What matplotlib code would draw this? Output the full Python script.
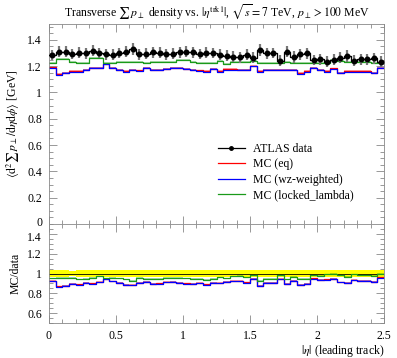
import numpy as np
import matplotlib
matplotlib.use("Agg")
import matplotlib.pyplot as plt
import matplotlib.transforms as mtransforms
from matplotlib.ticker import MultipleLocator

plt.rcParams['font.family'] = ['Liberation Serif', 'DejaVu Serif']
plt.rcParams['mathtext.fontset'] = 'stix'
plt.rcParams['font.size'] = 8.5

# 50 bins in |eta| from 0 to 2.5
edges = np.linspace(0, 2.5, 51)

data = [1.285, 1.310, 1.310, 1.293, 1.303, 1.298, 1.318, 1.298, 1.290, 1.285,
        1.298, 1.310, 1.328, 1.290, 1.295, 1.305, 1.303, 1.290, 1.293, 1.305,
        1.310, 1.305, 1.293, 1.303, 1.298, 1.285, 1.280, 1.272, 1.267, 1.285,
        1.264, 1.323, 1.298, 1.298, 1.242, 1.310, 1.267, 1.290, 1.298, 1.247,
        1.252, 1.234, 1.247, 1.264, 1.277, 1.242, 1.252, 1.252, 1.260, 1.234]
data_err = [0.040, 0.042, 0.040, 0.038, 0.040, 0.042, 0.045, 0.040, 0.040, 0.042,
            0.040, 0.042, 0.045, 0.040, 0.040, 0.042, 0.040, 0.040, 0.042, 0.040,
            0.042, 0.040, 0.040, 0.042, 0.040, 0.042, 0.040, 0.042, 0.040, 0.042,
            0.040, 0.045, 0.042, 0.040, 0.042, 0.042, 0.045, 0.040, 0.042, 0.040,
            0.042, 0.040, 0.042, 0.040, 0.042, 0.040, 0.042, 0.040, 0.042, 0.040]

mc_eq = [1.190, 1.140, 1.150, 1.160, 1.160, 1.172, 1.185, 1.185, 1.215, 1.185,
         1.172, 1.160, 1.172, 1.167, 1.185, 1.172, 1.172, 1.178, 1.185, 1.185,
         1.178, 1.172, 1.167, 1.160, 1.178, 1.160, 1.175, 1.175, 1.170, 1.170,
         1.200, 1.160, 1.172, 1.172, 1.172, 1.172, 1.172, 1.145, 1.160, 1.185,
         1.172, 1.160, 1.182, 1.150, 1.160, 1.160, 1.160, 1.160, 1.150, 1.185]
mc_wz = [1.184, 1.133, 1.145, 1.158, 1.158, 1.171, 1.184, 1.184, 1.217, 1.184,
         1.171, 1.158, 1.171, 1.165, 1.184, 1.171, 1.171, 1.176, 1.184, 1.184,
         1.176, 1.171, 1.165, 1.158, 1.176, 1.158, 1.171, 1.171, 1.168, 1.168,
         1.197, 1.158, 1.171, 1.171, 1.168, 1.171, 1.171, 1.140, 1.158, 1.184,
         1.171, 1.158, 1.176, 1.150, 1.158, 1.158, 1.158, 1.158, 1.150, 1.184]
mc_locked = [1.222, 1.252, 1.252, 1.234, 1.227, 1.227, 1.260, 1.260, 1.227, 1.227,
             1.234, 1.234, 1.234, 1.234, 1.227, 1.234, 1.234, 1.234, 1.234, 1.247,
             1.247, 1.234, 1.227, 1.222, 1.227, 1.237, 1.217, 1.234, 1.234, 1.234,
             1.240, 1.227, 1.227, 1.227, 1.227, 1.234, 1.222, 1.222, 1.227, 1.227,
             1.222, 1.222, 1.247, 1.240, 1.230, 1.230, 1.234, 1.234, 1.227, 1.227]

labels = ['ATLAS data', 'MC (eq)', 'MC (wz-weighted)', 'MC (locked_lambda)']
colors = ['black', 'red', 'blue', '#1a9a1a']

data = np.array(data)
data_err = np.array(data_err)
centers = 0.5 * (edges[:-1] + edges[1:])

fig = plt.figure(figsize=(3.97, 3.58), dpi=100)
ax = fig.add_axes([49/397, 1 - 224/358, 335/397, 200/358])
rax = fig.add_axes([49/397, 1 - 323/358, 335/397, 99/358])


def step(a, vals, **kw):
    v = np.append(vals, vals[-1])
    return a.step(edges, v, where='post', **kw)


def band(a, vals, err, color):
    lo = np.append(vals - err, vals[-1] - err)
    hi = np.append(vals + err, vals[-1] + err)
    a.fill_between(edges, lo, hi, step='post', color=color, alpha=0.35, lw=0)


# main panel
for vals, c, lab in zip([mc_eq, mc_wz, mc_locked], colors[1:], labels[1:]):
    vals = np.array(vals)
    band(ax, vals, 0.007, c)
    step(ax, vals, color=c, lw=0.9, label=lab)

ax.errorbar(centers, data, yerr=data_err, fmt='none', ecolor='#777777', elinewidth=1.6, zorder=3)
step(ax, data, color='black', lw=0.9, zorder=4)
ax.plot(centers, data, 'o', color='black', ms=3.3, zorder=5)
ax.plot([], [], '-o', color='black', ms=2.5, lw=0.9, label=labels[0])

h, l = ax.get_legend_handles_labels()
order = [3, 0, 1, 2]
ax.legend([h[i] for i in order], [l[i] for i in order], frameon=False,
          loc='upper left', bbox_to_anchor=(0.49, 0.43), handlelength=2.3,
          handletextpad=0.7, labelspacing=0.3, fontsize=8.5, borderaxespad=0)

ax.set_xlim(0, 2.5)
ax.set_ylim(0, 1.52)
ax.set_yticks(np.arange(0, 1.41, 0.2))
ax.set_yticklabels(['0', '0.2', '0.4', '0.6', '0.8', '1', '1.2', '1.4'])
ax.tick_params(labelbottom=False)
ax.set_ylabel(r'$\langle\mathrm{d}^2\sum\, p_\perp/\mathrm{d}\eta\mathrm{d}\phi\rangle$ [GeV]')
ax.set_title(r'Transverse $\sum\, p_\perp$ density vs. $|\eta^{\mathrm{trk1}}|$, $\sqrt{s}=7$ TeV, $p_\perp > 100$ MeV',
             fontsize=8.5, pad=6)

# ratio panel
rerr = data_err / data
lo = np.append(1 - rerr, 1 - rerr[-1])
hi = np.append(1 + rerr, 1 + rerr[-1])
rax.fill_between(edges, lo, hi, step='post', color='yellow', lw=0)
rax.axhline(1, color='black', lw=0.6)
for vals, c in zip([mc_eq, mc_wz, mc_locked], colors[1:]):
    r = np.array(vals) / data
    band(rax, r, 0.007, c)
    step(rax, r, color=c, lw=0.9)

rax.set_xlim(0, 2.5)
rax.set_ylim(0.5, 1.5)
rax.set_yticks([0.6, 0.8, 1.0, 1.2, 1.4])
rax.set_yticklabels(['0.6', '0.8', '1', '1.2', '1.4'])
rax.set_xticks([0, 0.5, 1, 1.5, 2, 2.5])
rax.set_xticklabels(['0', '0.5', '1', '1.5', '2', '2.5'])
rax.set_ylabel('MC/data')
rax.set_xlabel(r'$|\eta|$ (leading track)', loc='right', labelpad=1)

for a in (ax, rax):
    a.xaxis.set_minor_locator(MultipleLocator(0.1))
    a.yaxis.set_minor_locator(MultipleLocator(0.05))
    a.tick_params(which='both', direction='in', top=True, right=True, color='#888888', width=0.6)
    a.tick_params(which='major', length=6, pad=5)
    a.tick_params(which='minor', length=3)
    for s in a.spines.values():
        s.set_color('#888888')
        s.set_linewidth(0.6)
ax.spines['bottom'].set_color('#555555')

# nudge the two labels that meet at the panel border apart
fig.canvas.draw()
ax.get_yticklabels()[0].set_transform(ax.get_yticklabels()[0].get_transform()
                                      + mtransforms.ScaledTranslation(0, 2/72, fig.dpi_scale_trans))
rax.get_yticklabels()[-1].set_transform(rax.get_yticklabels()[-1].get_transform()
                                        + mtransforms.ScaledTranslation(0, -2/72, fig.dpi_scale_trans))

fig.align_ylabels([ax, rax])
fig.savefig('out.png', dpi=100)
